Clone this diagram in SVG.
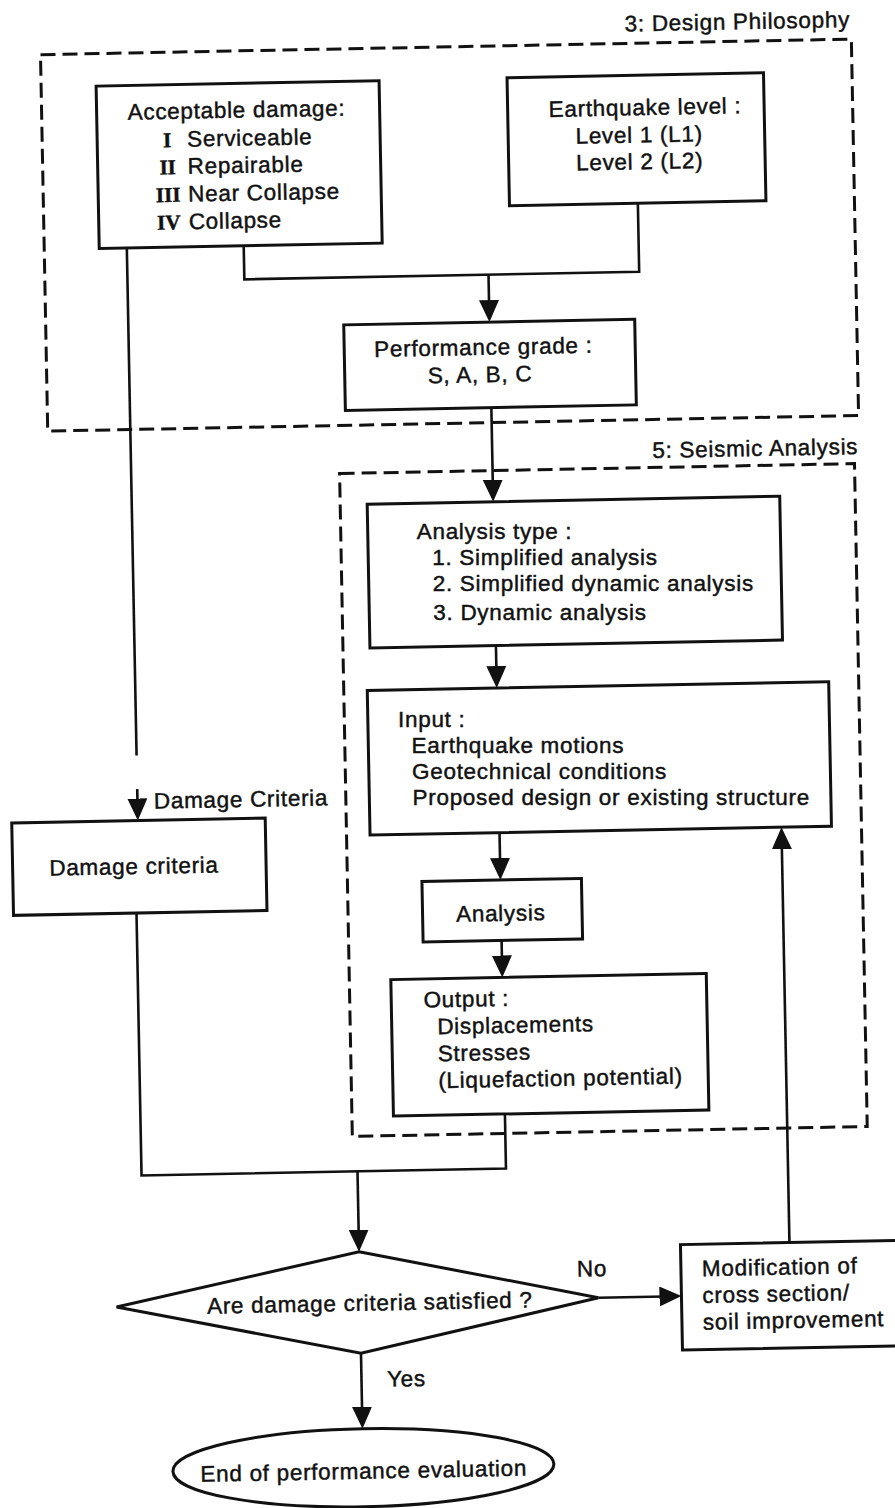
<svg xmlns="http://www.w3.org/2000/svg" width="895" height="1508" viewBox="0 0 895 1508">
<style>
.box{fill:none;stroke:#111;stroke-width:3}
.dash{fill:none;stroke:#111;stroke-width:3;stroke-dasharray:15 7}
.ln{fill:none;stroke:#111;stroke-width:2.6}
.ar{fill:none;stroke:#111;stroke-width:2.6;marker-end:url(#ah)}
text{font-family:"Liberation Sans",Arial,sans-serif;font-size:22.5px;letter-spacing:0.7px;fill:#111;stroke:#111;stroke-width:0.45}
.rn{font-family:"Liberation Serif","Times New Roman",serif;font-weight:bold;font-size:21px;letter-spacing:0}
</style>
<defs>
<marker id="ah" markerUnits="userSpaceOnUse" markerWidth="22" markerHeight="20" refX="18" refY="10" orient="auto" viewBox="0 0 22 20">
<path d="M0,0 L22,10 L0,20 z" fill="#111"/>
</marker>
</defs>
<rect width="895" height="1508" fill="#fff"/>
<g transform="rotate(-1.1 447 754)">
<g id="group-design-philosophy">
<rect class="dash" x="54" y="47" width="811" height="376.5"/>
<text x="864" y="35" text-anchor="end">3: Design Philosophy</text>
</g>
<g id="group-seismic-analysis">
<rect class="dash" x="345" y="471.5" width="515" height="663"/>
<text x="864" y="462" text-anchor="end">5: Seismic Analysis</text>
</g>
<g id="node-acceptable-damage">
<rect class="box" x="109" y="79.5" width="283" height="162.5"/>
<text x="140" y="113.7">Acceptable damage:</text>
<text class="rn" x="179" y="141.8" text-anchor="middle">I</text><text x="199" y="141.8">Serviceable</text>
<text class="rn" x="179" y="169" text-anchor="middle">II</text><text x="199" y="169">Repairable</text>
<text class="rn" x="179" y="196.7" text-anchor="middle">III</text><text x="199" y="196.7">Near Collapse</text>
<text class="rn" x="179" y="224.3" text-anchor="middle">IV</text><text x="199" y="224.3">Collapse</text>
</g>
<g id="node-earthquake-level">
<rect class="box" x="520" y="79" width="256.5" height="128"/>
<text x="561" y="119">Earthquake level :</text>
<text x="587.4" y="146.3">Level 1 (L1)</text>
<text x="587.4" y="173">Level 2 (L2)</text>
</g>
<g id="node-performance-grade">
<rect class="box" x="352" y="323" width="291" height="85.6"/>
<text x="382" y="355.6">Performance grade :</text>
<text x="435" y="383">S, A, B, C</text>
</g>
<g id="node-analysis-type">
<rect class="box" x="372" y="502.7" width="412.6" height="143.8"/>
<text x="421" y="539.5" transform="rotate(1.1 498 531.5)">Analysis type :</text>
<text x="436" y="566.5" transform="rotate(1.1 550 558.5)">1. Simplified analysis</text>
<text x="436" y="594" transform="rotate(1.1 598 586)">2. Simplified dynamic analysis</text>
<text x="436" y="621.5" transform="rotate(1.1 542 613.5)">3. Dynamic analysis</text>
</g>
<g id="node-input">
<rect class="box" x="368.5" y="689" width="461.5" height="144.6"/>
<text x="398.7" y="727" transform="rotate(1.1 434 719)">Input :</text>
<text x="411.7" y="754" transform="rotate(1.1 518 746)">Earthquake motions</text>
<text x="411.7" y="781" transform="rotate(1.1 539 773)">Geotechnical conditions</text>
<text x="411.7" y="808" transform="rotate(1.1 610 800)">Proposed design or existing structure</text>
</g>
<g id="node-damage-criteria">
<rect class="box" x="10.5" y="814.6" width="253.5" height="92.4"/>
<text x="47.2" y="868">Damage criteria</text>
</g>
<g id="node-analysis">
<rect class="box" x="419.5" y="881" width="159.5" height="60.5"/>
<text x="453" y="922">Analysis</text>
</g>
<g id="node-output">
<rect class="box" x="386.5" y="978.5" width="315.5" height="136.5"/>
<text x="418.8" y="1007">Output :</text>
<text x="432" y="1034">Displacements</text>
<text x="432" y="1061">Stresses</text>
<text x="432" y="1088">(Liquefaction potential)</text>
</g>
<g id="node-decision">
<polygon class="box" points="349.5,1250 588,1300.5 349.5,1351.5 106,1300.5"/>
<text x="196.5" y="1309">Are damage criteria satisfied ?</text>
</g>
<g id="node-modification">
<rect class="box" x="671" y="1249" width="260" height="105.5"/>
<text x="692" y="1281">Modification of</text>
<text x="692" y="1307.7">cross section/</text>
<text x="692" y="1334.5">soil improvement</text>
</g>
<g id="node-end">
<ellipse class="box" cx="349.7" cy="1466" rx="190.5" ry="39"/>
<text x="350" y="1477" text-anchor="middle">End of performance evaluation</text>
</g>
<g id="connectors">
<polyline class="ln" points="253.5,242 253.5,275.5 648.4,275.5 648.4,207"/>
<line class="ar" x1="497.7" y1="275.5" x2="497.7" y2="319"/>
<line class="ln" x1="136.6" y1="242" x2="136.6" y2="749.6"/>
<line class="ar" x1="136.6" y1="783" x2="136.6" y2="810.6"/>
<text x="153" y="803">Damage Criteria</text>
<line class="ar" x1="498" y1="408.6" x2="498" y2="498.7"/>
<line class="ar" x1="498" y1="646.5" x2="498" y2="685"/>
<line class="ar" x1="498" y1="833.6" x2="498" y2="877"/>
<line class="ar" x1="498" y1="941.5" x2="498" y2="974.5"/>
<polyline class="ln" points="498,1115 498,1169.5 133.5,1169.5 133.5,907"/>
<line class="ar" x1="349.5" y1="1169.5" x2="349.5" y2="1246"/>
<line class="ar" x1="588" y1="1300.5" x2="667" y2="1300.5"/>
<text x="567" y="1279">No</text>
<line class="ar" x1="780" y1="1249" x2="780" y2="837.6"/>
<line class="ar" x1="349.5" y1="1351.5" x2="349.5" y2="1423"/>
<text x="375" y="1385.6">Yes</text>
</g>
</g>
</svg>
